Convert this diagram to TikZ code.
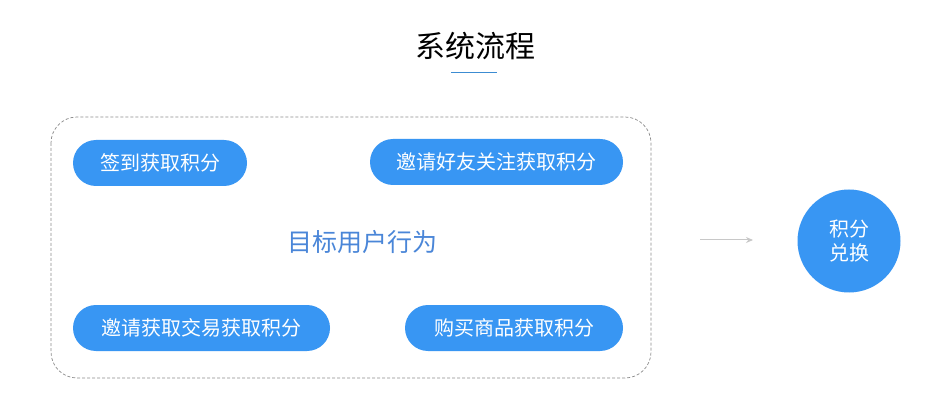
\documentclass[tikz,border=0pt]{standalone}
\usepackage{fontspec}
\newfontfamily\cjk{Noto Sans CJK SC}
\usetikzlibrary{arrows.meta}
\definecolor{pillblue}{RGB}{56,150,243}
\definecolor{midblue}{RGB}{74,134,216}
\definecolor{linegray}{RGB}{140,140,140}
\definecolor{arrowgray}{RGB}{200,200,200}
\definecolor{ulblue}{RGB}{60,140,210}
\tikzset{
  pill/.style={fill=pillblue, rounded corners=23pt, minimum height=46pt, inner xsep=0pt, text=white, font=\cjk\fontsize{20}{22}\selectfont, anchor=center},
}
\begin{document}
\begin{tikzpicture}[x=1pt,y=-1pt]
\useasboundingbox (0,0) rectangle (932,414);
\fill[white] (0,0) rectangle (932,414);
% title
\node[font=\cjk\fontsize{30}{33}\selectfont, text=black] (title) at (475,46) {系统流程};
\draw[ulblue, line width=1pt] (451,73) -- (497,73);
% dashed container
\draw[linegray, dashed, dash pattern=on 3pt off 2pt, line width=0.7pt, rounded corners=26pt] (51,117) rectangle (651,378);
\node[font=\cjk\fontsize{25}{28}\selectfont, text=midblue] (center) at (362,242) {目标用户行为};
% pills
\node[pill, minimum width=174pt] (p1) at (160,163) {签到获取积分};
\node[pill, minimum width=253pt] (p2) at (496.5,162) {邀请好友关注获取积分};
\node[pill, minimum width=257pt] (p3) at (201.5,328) {邀请获取交易获取积分};
\node[pill, minimum width=218pt] (p4) at (514,328) {购买商品获取积分};
% circle
\node[circle, fill=pillblue, minimum size=103pt, inner sep=0pt, text=white, font=\cjk\fontsize{20}{24}\selectfont, align=center] (ex) at (849,241) {积分\\兑换};
\coordinate (a0) at (700,240);
\coordinate (a1) at (753,240);
\draw[arrowgray, line width=1pt, -{Stealth[length=7pt,width=6pt]}] (a0) -- (a1);
\end{tikzpicture}
\end{document}
